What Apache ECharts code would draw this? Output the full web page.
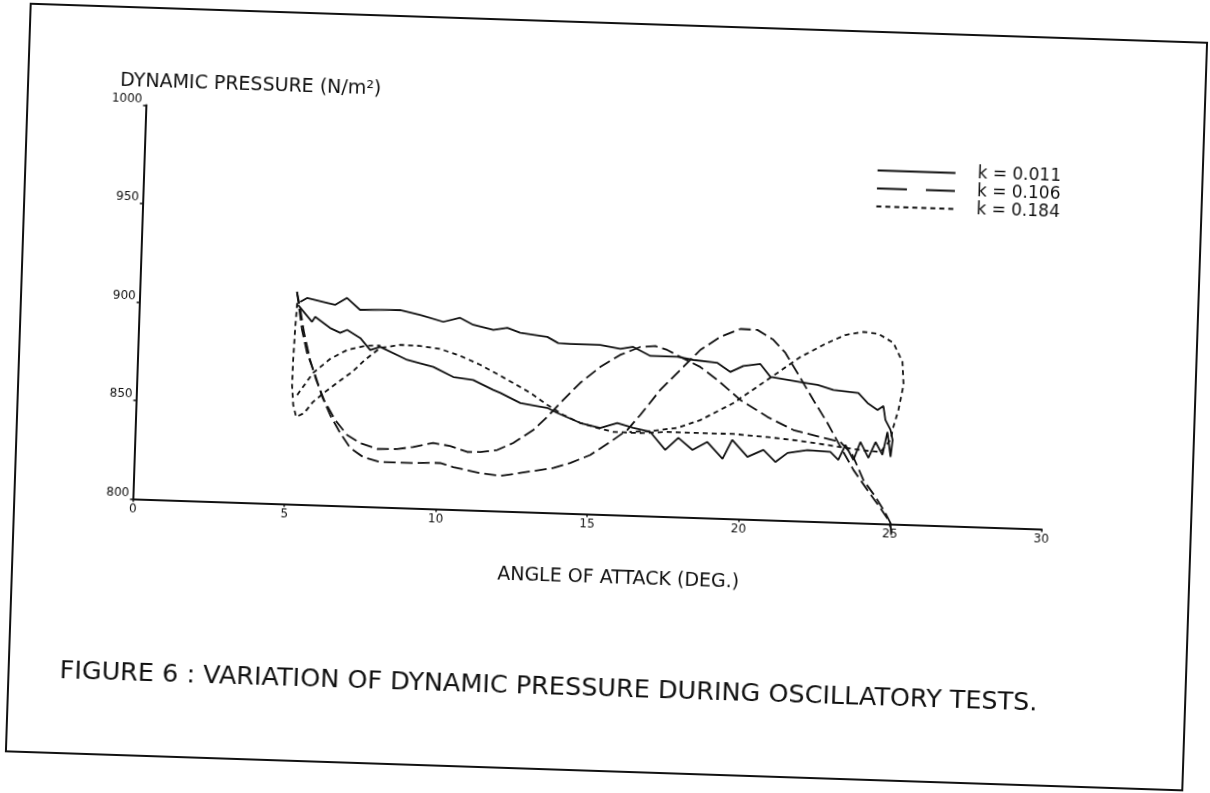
<!DOCTYPE html>
<html>
<head>
<meta charset="utf-8">
<script src="https://cdn.jsdelivr.net/npm/echarts@6/dist/echarts.min.js"></script>
<style>
  html, body { margin: 0; padding: 0; background: #ffffff; overflow: hidden; }
  #chart {
    position: absolute; left: 0; top: 0; width: 1210px; height: 793px;
    transform: rotate(1.9deg); transform-origin: 605px 396.5px;
  }
</style>
</head>
<body>
<div id="chart"></div>
<script>
// ---- data (angle of attack in deg, dynamic pressure in N/m^2) ----
const seriesNames = ['k = 0.011', 'k = 0.106', 'k = 0.184'];
const xTicks = [0, 5, 10, 15, 20, 25, 30];
const yTicks = [800, 850, 900, 950, 1000];

// k = 0.011 : upper branch (increasing angle)
const k011Upper = [[5.30,902.8],[5.52,904.9],[6.06,903.2],[6.46,901.9],[6.84,905.6],[7.28,899.8],[7.94,900.1],[8.60,900.4],[9.27,898.2],[10.04,895.1],[10.59,897.4],[11.03,894.1],[11.70,891.9],[12.16,893.1],[12.59,890.8],[13.49,889.2],[13.85,886.3],[14.25,886.0],[15.24,886.0],[15.91,884.4],[16.33,885.6],[16.91,881.3],[17.80,881.3],[18.33,880.0],[19.13,878.9],[19.56,874.5],[19.99,877.8],[20.54,879.1],[20.89,872.7],[21.88,870.6],[22.46,869.4],[22.98,867.1],[23.81,866.0],[24.12,861.1],[24.46,857.7],[24.65,859.8],[24.73,852.8],[24.91,847.8],[24.99,842.7]];
// k = 0.011 : lower branch (listed by increasing angle)
const k011Lower = [[5.23,901.3],[5.71,892.9],[5.81,895.5],[6.31,890.1],[6.65,887.8],[6.88,889.4],[7.32,885.5],[7.66,879.6],[7.99,881.3],[8.89,875.2],[9.76,872.1],[10.43,867.3],[11.09,866.1],[11.76,861.4],[12.00,860.0],[12.67,855.2],[13.56,853.2],[13.90,850.8],[14.67,846.1],[15.33,843.9],[15.89,846.7],[16.42,844.5],[16.99,842.7],[17.50,833.9],[17.92,840.2],[18.40,834.3],[18.88,838.6],[19.40,830.3],[19.70,840.1],[20.22,831.7],[20.74,835.5],[21.15,829.6],[21.54,834.4],[22.19,836.2],[22.95,835.6],[23.22,831.7],[23.44,839.4],[23.72,831.9],[23.93,841.2],[24.21,833.2],[24.43,841.4],[24.67,835.0],[24.81,846.7],[24.94,834.1],[24.99,842.7]];

// k = 0.106 : two branches
const k106A = [[5.18,907.9],[5.30,899.8],[5.46,887.2],[5.69,873.5],[5.91,863.5],[6.19,853.5],[6.58,843.5],[6.99,836.1],[7.43,832.2],[8.00,829.5],[8.66,829.8],[9.18,831.1],[9.84,833.5],[10.40,832.2],[10.97,829.5],[11.40,829.7],[11.96,831.0],[12.48,834.8],[13.13,841.8],[13.57,848.6],[14.08,857.5],[14.62,866.4],[15.27,874.9],[15.91,881.3],[16.57,885.7],[17.06,886.4],[17.46,884.6],[17.90,881.3],[18.57,876.5],[19.14,870.3],[19.92,860.5],[20.84,852.3],[21.71,846.1],[22.60,843.0],[23.27,840.9],[23.68,834.5],[24.07,821.9],[24.49,813.5],[24.83,805.6],[25.03,800.0]];
const k106B = [[5.18,907.9],[5.39,888.6],[5.58,877.0],[5.87,866.0],[6.13,855.0],[6.41,845.9],[6.76,837.0],[7.11,829.5],[7.54,825.2],[8.11,822.9],[9.20,823.0],[10.09,823.5],[10.52,821.6],[11.42,819.0],[12.09,817.9],[12.97,820.4],[13.83,822.8],[14.38,825.6],[15.03,830.0],[15.68,837.0],[16.23,843.4],[16.64,851.2],[17.27,864.2],[17.91,874.7],[18.55,885.2],[19.19,892.1],[19.85,896.5],[20.41,896.3],[20.95,891.5],[21.36,885.1],[21.78,875.1],[22.33,861.7],[22.82,850.3],[23.28,838.3],[23.73,826.9],[24.21,817.0],[24.66,808.0],[24.94,802.1],[25.02,799.0],[25.05,794.0]];

// k = 0.184 : main loop and a short branch
const k184A = [[5.20,902.2],[5.16,888.5],[5.13,873.2],[5.12,860.6],[5.18,850.4],[5.29,844.4],[5.55,846.5],[5.83,852.3],[6.22,857.6],[6.64,862.8],[7.09,868.2],[7.50,874.5],[7.99,880.8],[8.64,882.7],[9.30,882.5],[9.97,881.3],[10.64,878.1],[11.31,873.9],[11.87,869.6],[12.41,865.3],[12.99,860.5],[13.56,854.7],[14.10,849.9],[14.67,846.1],[15.23,843.9],[15.77,842.1],[16.66,842.0],[17.55,843.0],[18.64,843.0],[19.73,843.1],[20.85,842.1],[21.95,840.7],[23.04,838.7],[23.94,837.1],[24.60,836.4],[24.92,842.7],[25.00,849.3],[25.15,858.1],[25.29,870.9],[25.23,882.5],[24.91,892.0],[24.41,896.3],[23.91,897.1],[23.32,895.2],[22.67,890.4],[21.86,883.3],[20.79,871.1],[19.70,858.8],[18.63,849.6],[17.87,845.2],[16.99,843.2],[16.30,842.4]];
const k184B = [[5.30,855.5],[5.80,867.0],[6.35,874.4],[6.90,879.2],[7.49,881.6],[7.99,882.0]];

// ---- chart ----
const FONT = 'DejaVu Sans';
const INK = '#111111';
const styles = {
  'k = 0.011': 'solid',
  'k = 0.106': [12, 5],
  'k = 0.184': [5, 4]
};
const legendDash = {
  'k = 0.011': 'solid',
  'k = 0.106': [30, 19],
  'k = 0.184': [5, 4]
};
function mk(name, data) {
  return {
    name: name, type: 'line', data: data,
    symbol: 'none', showSymbol: false, smooth: false, clip: false,
    silent: true, animation: false,
    lineStyle: { color: INK, width: 1.8, type: styles[name] },
    itemStyle: { color: INK }
  };
}

const chart = echarts.init(document.getElementById('chart'), null, { renderer: 'canvas' });
chart.setOption({
  backgroundColor: 'transparent',
  animation: false,
  title: [
    { text: 'DYNAMIC PRESSURE (N/m²)', left: 110, top: 88, padding: 0,
      textStyle: { fontFamily: FONT, fontSize: 19, fontWeight: 'normal', color: INK } },
    { text: 'FIGURE 6 : VARIATION OF DYNAMIC PRESSURE DURING OSCILLATORY TESTS.', left: 69, top: 676, padding: 0,
      textStyle: { fontFamily: FONT, fontSize: 25.5, fontWeight: 'normal', color: INK } }
  ],
  legend: {
    data: seriesNames.map(function (n) {
      return { name: n, lineStyle: { type: legendDash[n], width: 1.8, color: INK } };
    }),
    orient: 'vertical', left: 869, top: 153, padding: 0,
    itemWidth: 78, itemHeight: 12, itemGap: 1,
    selectedMode: false,
    itemStyle: { opacity: 0, borderWidth: 0 },
    textStyle: { fontFamily: FONT, fontSize: 17, color: INK, padding: [0, 0, 0, 17] }
  },
  grid: { left: 136.7, right: 164.3, top: 120.6, bottom: 278.4, containLabel: false },
  xAxis: {
    type: 'value', min: 0, max: 30, interval: 5,
    name: 'ANGLE OF ATTACK (DEG.)', nameLocation: 'middle', nameGap: 54,
    nameTextStyle: { fontFamily: FONT, fontSize: 19, color: INK, padding: [0, 0, 0, 66] },
    axisLine: { show: true, onZero: false, lineStyle: { color: INK, width: 2 } },
    axisTick: { show: true, length: 3, lineStyle: { color: INK, width: 1.5 } },
    axisLabel: { fontFamily: FONT, fontSize: 12, color: INK, margin: 4,
      formatter: function (v) { return xTicks.indexOf(v) >= 0 ? String(v) : ''; } },
    splitLine: { show: false }
  },
  yAxis: {
    type: 'value', min: 800, max: 1000, interval: 50,
    axisLine: { show: true, onZero: false, lineStyle: { color: INK, width: 2 } },
    axisTick: { show: true, length: 3, lineStyle: { color: INK, width: 1.5 } },
    axisLabel: { fontFamily: FONT, fontSize: 12, color: INK, margin: 4, verticalAlign: 'bottom',
      formatter: function (v) { return yTicks.indexOf(v) >= 0 ? String(v) : ''; } },
    splitLine: { show: false }
  },
  graphic: [
    { type: 'rect', shape: { x: 18, y: 23, width: 1177, height: 748 }, silent: true,
      style: { fill: null, stroke: INK, lineWidth: 2 } }
  ],
  series: [
    mk('k = 0.011', k011Upper.concat(k011Lower.slice().reverse())),
    mk('k = 0.106', k106A),
    mk('k = 0.106', k106B),
    mk('k = 0.184', k184A),
    mk('k = 0.184', k184B)
  ]
});
</script>
</body>
</html>
